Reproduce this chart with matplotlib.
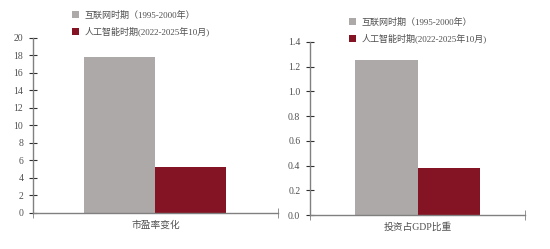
import matplotlib
matplotlib.use('Agg')
import matplotlib.pyplot as plt
from matplotlib.patches import Patch

plt.rcParams['font.family'] = ['Liberation Serif', 'Noto Sans CJK SC']

series_names = ['互联网时期（1995-2000年）', '人工智能时期(2022-2025年10月)']
colors = ['#ADA9A8', '#841424']

left_category = '市盈率变化'
left_values = [17.8, 5.3]

right_category = '投资占GDP比重'
right_values = [1.25, 0.38]

axis_color = '#808080'
text_color = '#505050'

fig = plt.figure(figsize=(5.5, 2.49), dpi=100)
ax1 = fig.add_axes([0.06, 0.1446, 0.445, 0.703])
ax2 = fig.add_axes([0.5636, 0.1365, 0.391, 0.695])


def draw(ax, values, category, ylim, step, fmt, lx, ly):
    w = 0.29
    offsets = [-w / 2, w / 2]
    for v, off, c in zip(values, offsets, colors):
        ax.bar(off, v, width=w, color=c)
    ax.set_xlim(-0.5, 0.5)
    ax.set_ylim(0, ylim)
    n = int(round(ylim / step))
    ticks = [i * step for i in range(n + 1)]
    ax.set_yticks(ticks)
    ax.set_yticklabels([fmt.format(t) for t in ticks])
    ax.set_xticks([0])
    ax.set_xticklabels([category])
    ax.set_xticks([-0.5, 0.5], minor=True)
    ax.tick_params(axis='x', which='major', length=0, pad=5,
                   labelsize=7, labelcolor=text_color)
    ax.tick_params(axis='x', which='minor', length=7, direction='inout',
                   color=axis_color)
    ax.tick_params(axis='y', length=6, direction='inout', color='#303030',
                   labelsize=7, labelcolor=text_color, pad=4)
    for s in ['top', 'right']:
        ax.spines[s].set_visible(False)
    for s in ['left', 'bottom']:
        ax.spines[s].set_color(axis_color)
        ax.spines[s].set_linewidth(1.0)
    handles = [Patch(facecolor=c, edgecolor='none') for c in colors]
    leg = ax.legend(handles, series_names, loc='upper left',
                    bbox_to_anchor=(lx, ly), frameon=False, fontsize=6.5,
                    handlelength=0.8, handleheight=0.8, handletextpad=0.6,
                    labelspacing=0.75, borderaxespad=0)
    for t in leg.get_texts():
        t.set_color(text_color)


draw(ax1, left_values, left_category, 20, 2, '{:.0f}', 0.145, 1.175)
draw(ax2, right_values, right_category, 1.4, 0.2, '{:.1f}', 0.165, 1.16)

fig.savefig('out.png', dpi=100)
